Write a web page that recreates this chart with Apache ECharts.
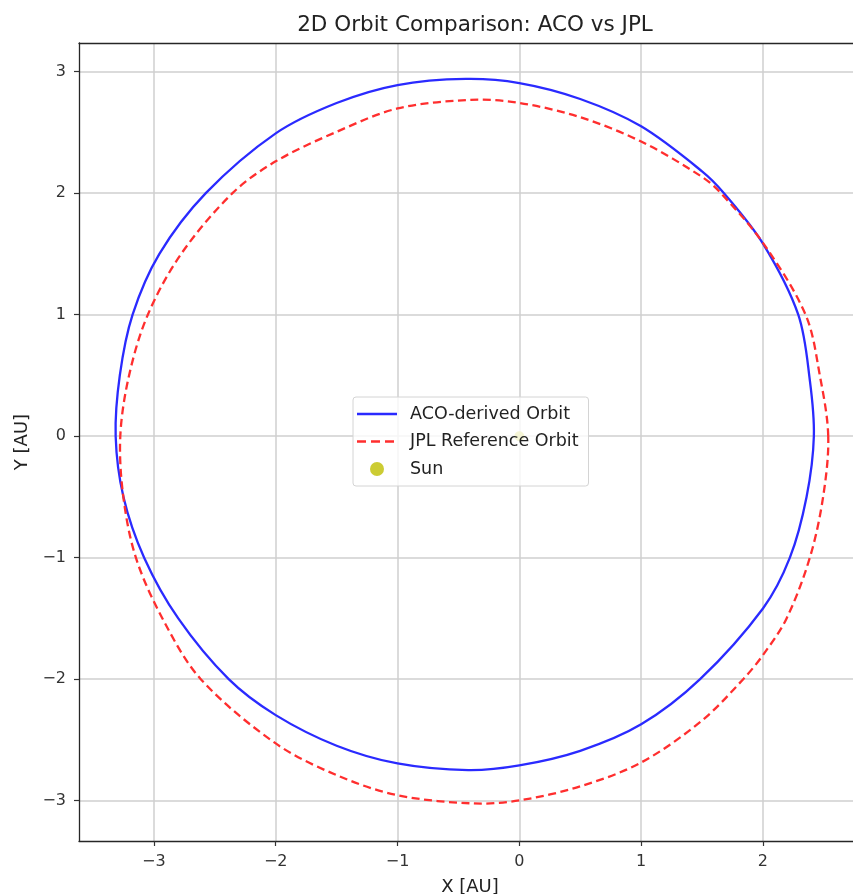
<!DOCTYPE html>
<html>
<head>
<meta charset="utf-8">
<script src="https://cdn.jsdelivr.net/npm/echarts@6/dist/echarts.min.js"></script>
<style>
html,body{margin:0;padding:0;background:#fff;}
#c{width:853px;height:894px;}
</style>
</head>
<body>
<div id="c"></div>
<script>
// Points, in AU (closed loops, each point once)
const acoOrbit = [
  [2.418, 0.0], [2.385, 0.46], [2.29, 1.0], [2.0, 1.585], [1.68, 2.0],
  [1.5, 2.18], [1.0, 2.55], [0.5, 2.775], [0.0, 2.906], [-0.44, 2.94],
  [-1.0, 2.89], [-1.5, 2.742], [-2.0, 2.492], [-2.574, 2.0], [-2.955, 1.5],
  [-3.175, 1.0], [-3.28, 0.5], [-3.314, 0.0], [-3.25, -0.5], [-3.08, -1.0],
  [-2.80, -1.5], [-2.386, -2.0], [-2.0, -2.296], [-1.5, -2.548], [-1.0, -2.694],
  [-0.42, -2.749], [0.0, -2.71], [0.5, -2.59], [1.0, -2.372], [1.484, -2.0],
  [2.0, -1.418], [2.221, -1.0], [2.358, -0.5]
];
const jplOrbit = [
  [2.536, 0.0], [2.467, 0.5], [2.35, 1.0], [2.0, 1.591], [1.655, 2.0],
  [1.5, 2.134], [1.0, 2.425], [0.5, 2.625], [0.0, 2.743], [-0.40, 2.768],
  [-1.0, 2.697], [-1.5, 2.505], [-2.0, 2.262], [-2.355, 2.0], [-2.776, 1.5],
  [-3.05, 1.0], [-3.204, 0.5], [-3.276, 0.0], [-3.251, -0.5],
  [-3.148, -1.0], [-2.93, -1.5], [-2.615, -2.0], [-2.0, -2.529],
  [-1.5, -2.79], [-1.0, -2.955], [-0.375, -3.023], [0.0, -2.998], [0.5, -2.882],
  [1.0, -2.686], [1.5, -2.34], [1.838, -2.0], [2.0, -1.802], [2.194, -1.5],
  [2.385, -1.0], [2.494, -0.5]
];
const sunPos = [[0, 0]];
const xTicks = [-3, -2, -1, 0, 1, 2];
const yTicks = [-3, -2, -1, 0, 1, 2, 3];
const xRange = [-3.615, 2.805];
const yRange = [-3.332, 3.236];
const seriesNames = ['ACO-derived Orbit', 'JPL Reference Orbit', 'Sun'];

const FONT = 'DejaVu Sans';
const BLUE = '#2a2aff';
const RED = '#ff2e2e';
const FRAME = {color: '#262626', width: 1.3};
const fmt = v => (Math.abs(v - Math.round(v)) < 1e-6 ? String(Math.round(v)).replace('-', '\u2212') : '');

// legend handles (icon box 40 x 14): corner specks keep the box un-stretched
const corners = 'M0,0h0.01v0.01h-0.01z M39.99,13.99h0.01v0.01h-0.01z ';
const solidIcon = 'path://' + corners + 'M0,5.85h40v2.3h-40z';
const dashedIcon = 'path://' + corners + 'M0,5.85h9v2.3h-9z M14,5.85h9v2.3h-9z M28,5.85h9v2.3h-9z';

function orbitRenderer(points, stroke, dash) {
  return function (params, api) {
    if (params.dataIndex !== 0) return null;
    const pts = points.map(p => api.coord(p));
    return {
      type: 'polygon',
      shape: {points: pts, smooth: 0.33},
      style: {fill: 'none', stroke: stroke, lineWidth: 2.3, lineDash: dash || null},
      silent: true
    };
  };
}

const chart = echarts.init(document.getElementById('c'), null, {renderer: 'canvas'});
chart.setOption({
  backgroundColor: '#ffffff',
  animation: false,
  textStyle: {fontFamily: FONT},
  color: [BLUE, RED, '#bfbf00'],
  title: {
    text: '2D Orbit Comparison: ACO vs JPL',
    left: 470, top: 9,
    textAlign: 'center',
    textStyle: {fontFamily: FONT, fontSize: 21.5, fontWeight: 'normal', color: '#222'}
  },
  grid: {
    left: 79, top: 43, right: -8, bottom: 53,
    containLabel: false, outerBoundsMode: 'none',
    show: false
  },
  legend: {
    orient: 'vertical',
    left: 353, top: 397,
    data: [
      {name: seriesNames[0], icon: solidIcon, itemStyle: {color: BLUE}},
      {name: seriesNames[1], icon: dashedIcon, itemStyle: {color: RED}},
      {name: seriesNames[2], icon: 'circle', itemStyle: {color: '#bfbf00'}}
    ],
    itemWidth: 40, itemHeight: 14, itemGap: 9.5,
    padding: [8, 10, 8, 4],
    backgroundColor: 'rgba(255,255,255,0.8)',
    borderColor: '#d4d4d4', borderWidth: 1, borderRadius: 3,
    textStyle: {fontFamily: FONT, fontSize: 17.5, color: '#222', padding: [0, 0, 0, 8]}
  },
  xAxis: [
    {
      type: 'value', position: 'bottom', min: xRange[0], max: xRange[1],
      minInterval: 1, maxInterval: 1,
      name: 'X [AU]', nameLocation: 'middle', nameGap: 37,
      nameTextStyle: {fontFamily: FONT, fontSize: 18, color: '#222'},
      axisLine: {show: true, onZero: false, lineStyle: FRAME},
      axisTick: {show: true, inside: false, length: 5, lineStyle: {color: '#333', width: 1.2}, customValues: xTicks},
      axisLabel: {fontFamily: FONT, fontSize: 16, color: '#333', margin: 13, formatter: fmt, customValues: xTicks},
      splitLine: {show: true, lineStyle: {color: '#cfcfcf', width: 1.5}}
    },
    {
      type: 'value', position: 'top', min: xRange[0], max: xRange[1],
      axisLine: {show: true, onZero: false, lineStyle: FRAME},
      axisTick: {show: false}, axisLabel: {show: false}, splitLine: {show: false}
    }
  ],
  yAxis: {
    type: 'value', position: 'left', min: yRange[0], max: yRange[1],
    minInterval: 1, maxInterval: 1,
    name: 'Y [AU]', nameLocation: 'middle', nameGap: 45, nameRotate: 90,
    nameTextStyle: {fontFamily: FONT, fontSize: 18, color: '#222'},
    axisLine: {show: true, onZero: false, lineStyle: FRAME},
    axisTick: {show: true, inside: false, length: 5, lineStyle: {color: '#333', width: 1.2}, customValues: yTicks},
    axisLabel: {fontFamily: FONT, fontSize: 16, color: '#333', margin: 13, formatter: fmt, customValues: yTicks},
    splitLine: {show: true, lineStyle: {color: '#cfcfcf', width: 1.5}}
  },
  series: [
    {
      name: seriesNames[0], type: 'custom', coordinateSystem: 'cartesian2d',
      xAxisIndex: 0, yAxisIndex: 0,
      data: acoOrbit, encode: {x: 0, y: 1}, z: 3,
      itemStyle: {color: BLUE},
      renderItem: orbitRenderer(acoOrbit, BLUE, null)
    },
    {
      name: seriesNames[1], type: 'custom', coordinateSystem: 'cartesian2d',
      xAxisIndex: 0, yAxisIndex: 0,
      data: jplOrbit, encode: {x: 0, y: 1}, z: 3,
      itemStyle: {color: RED},
      renderItem: orbitRenderer(jplOrbit, RED, [8, 4.5])
    },
    {
      name: seriesNames[2], type: 'scatter', data: sunPos,
      xAxisIndex: 0, yAxisIndex: 0,
      symbol: 'circle', symbolSize: 10, z: 2,
      itemStyle: {color: '#bfbf00'}
    }
  ]
});
</script>
</body>
</html>
